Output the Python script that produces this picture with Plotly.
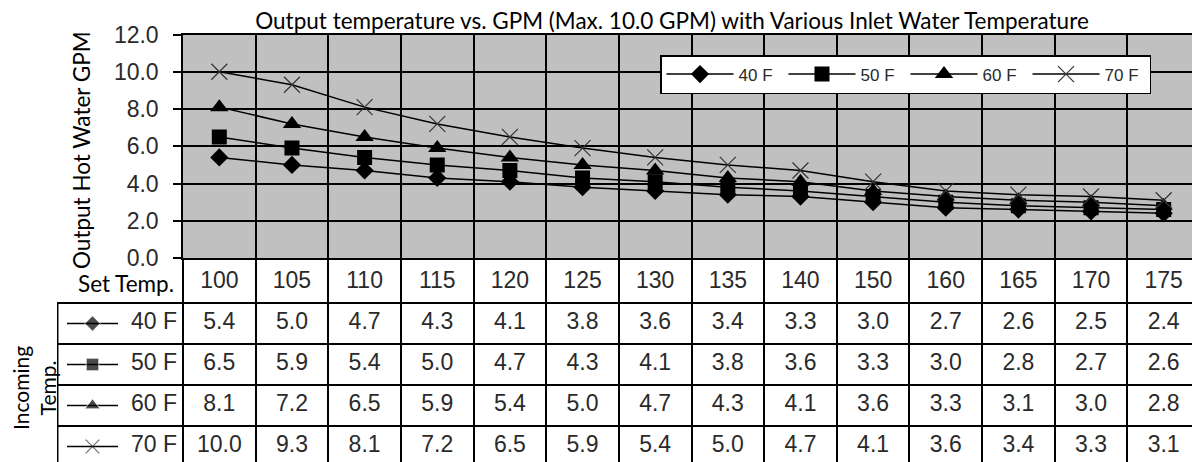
import plotly.graph_objects as go

# Data
set_temps = ["100", "105", "110", "115", "120", "125", "130", "135", "140", "150", "160", "165", "170", "175"]
inlet_labels = ["40 F", "50 F", "60 F", "70 F"]
gpm_40 = [5.4, 5.0, 4.7, 4.3, 4.1, 3.8, 3.6, 3.4, 3.3, 3.0, 2.7, 2.6, 2.5, 2.4]
gpm_50 = [6.5, 5.9, 5.4, 5.0, 4.7, 4.3, 4.1, 3.8, 3.6, 3.3, 3.0, 2.8, 2.7, 2.6]
gpm_60 = [8.1, 7.2, 6.5, 5.9, 5.4, 5.0, 4.7, 4.3, 4.1, 3.6, 3.3, 3.1, 3.0, 2.8]
gpm_70 = [10.0, 9.3, 8.1, 7.2, 6.5, 5.9, 5.4, 5.0, 4.7, 4.1, 3.6, 3.4, 3.3, 3.1]
y_ticks = [0, 2, 4, 6, 8, 10, 12]

series = [gpm_40, gpm_50, gpm_60, gpm_70]
markers = [
    dict(symbol="diamond", size=14, color="black"),
    dict(symbol="square", size=15, color="black"),
    dict(symbol="triangle-up", size=16, color="black"),
    dict(symbol="x-thin", size=16, color="black", line=dict(width=1.2, color="#333")),
]

# page body has an 8px margin, so the figure is drawn 8px smaller and shifted
OFF = 8
W, H = 1200 - OFF, 462 - OFF


def px(x):
    return (x - OFF) / W


def py(y):
    return 1 - (y - OFF) / H


plot_left, plot_top, plot_bottom = 183, 34.5, 258
table_left = 57
n = len(set_temps)
col_w = (1200 - plot_left) / n
row_h = 41.0
table_top = 303

# table axis ranges in "column" / "row" units
x2_min = -0.5 - (plot_left - table_left) / col_w
y2_top = 0.5 - (table_top - plot_bottom) / row_h
y2_bottom = 0.5 + (462 - table_top) / row_h

num_font = dict(family="Liberation Sans, Arial", size=23, color="#2a2a2a")
cal_font = dict(family="Lato, Open Sans", size=22.5, color="black")

fig = go.Figure()

# chart lines
for label, vals, mk in zip(inlet_labels, series, markers):
    fig.add_trace(go.Scatter(
        x=set_temps, y=vals, mode="lines+markers", name=label,
        line=dict(color="black", width=1.5), marker=mk,
        xaxis="x", yaxis="y",
    ))

# table: header row (set temps)
fig.add_trace(go.Scatter(
    x=list(range(n)), y=[0] * n, mode="text", text=set_temps,
    textfont=num_font, showlegend=False, xaxis="x2", yaxis="y2",
    hoverinfo="skip",
))

# table: value rows with legend keys
key_x0 = x2_min + 10 / col_w
key_x1 = x2_min + 61 / col_w
label_x = -0.5 - 6 / col_w
for i, (label, vals, mk) in enumerate(zip(inlet_labels, series, markers)):
    row = i + 1
    fig.add_trace(go.Scatter(
        x=list(range(n)), y=[row] * n, mode="text",
        text=[f"{v:.1f}" for v in vals], textfont=num_font,
        showlegend=False, xaxis="x2", yaxis="y2", hoverinfo="skip",
    ))
    small = dict(mk)
    small["size"] = mk["size"] * 0.85
    fig.add_trace(go.Scatter(
        x=[key_x0, (key_x0 + key_x1) / 2, key_x1], y=[row] * 3,
        mode="lines+markers", line=dict(color="black", width=1.5),
        marker=dict(small, size=[0, small["size"], 0]),
        showlegend=False, xaxis="x2", yaxis="y2", hoverinfo="skip",
    ))
    fig.add_trace(go.Scatter(
        x=[label_x], y=[row], mode="text", text=[label],
        textposition="middle left", textfont=num_font,
        showlegend=False, xaxis="x2", yaxis="y2", hoverinfo="skip",
    ))

# grey background only behind the chart, table stays white
fig.add_shape(type="rect", xref="x domain", yref="y domain", x0=0, x1=1, y0=0, y1=1,
              fillcolor="#c0c0c0", line=dict(width=0), layer="below")
# left border of the table body
fig.add_shape(type="line", xref="x2", yref="y2", x0=x2_min + 0.01, x1=x2_min + 0.01,
              y0=0.5, y1=y2_bottom, line=dict(color="black", width=1.5))

fig.update_layout(
    width=W, height=H, autosize=False,
    margin=dict(l=0, r=0, t=0, b=0, autoexpand=False),
    paper_bgcolor="white", plot_bgcolor="white",
    title=dict(
        text="Output temperature vs. GPM (Max. 10.0 GPM) with Various Inlet Water Temperature",
        x=px(672), y=1 - 5 / H, xanchor="center", yanchor="top",
        font=cal_font,
    ),
    xaxis=dict(
        domain=[px(plot_left), 1], range=[-0.5, n - 0.5], type="category",
        tickson="boundaries", showgrid=True, gridcolor="black", gridwidth=1.5,
        showline=True, linecolor="black", linewidth=1.5, mirror=True,
        showticklabels=False, ticks="", anchor="y",
    ),
    yaxis=dict(
        domain=[py(plot_bottom), py(plot_top)], range=[0, 12],
        tickvals=y_ticks, ticktext=[f"{v:.1f}" for v in y_ticks],
        showgrid=True, gridcolor="black", gridwidth=1.5,
        showline=True, linecolor="black", linewidth=1.5, mirror=True,
        ticks="outside", ticklen=8, tickcolor="black", tickwidth=1.5,
        tickfont=num_font, ticklabelstandoff=10, zeroline=False, anchor="x",
    ),
    xaxis2=dict(
        domain=[px(table_left), 1], range=[x2_min, n - 0.5],
        tickvals=[i - 0.5 for i in range(n + 1)],
        showgrid=True, gridcolor="black", gridwidth=1.5,
        showticklabels=False, ticks="", zeroline=False, anchor="y2",
    ),
    yaxis2=dict(
        domain=[0, py(plot_bottom)], range=[y2_bottom, y2_top],
        tickvals=[r + 0.5 for r in range(4)],
        showgrid=True, gridcolor="black", gridwidth=1.5,
        showticklabels=False, ticks="", zeroline=False, anchor="x2",
    ),
    legend=dict(
        orientation="h", x=px(660), y=py(55), xanchor="left", yanchor="top",
        bgcolor="white", bordercolor="black", borderwidth=1.5,
        font=dict(family="Liberation Sans, Arial", size=17, color="#2a2a2a"),
        entrywidth=40, entrywidthmode="pixels", itemwidth=67,
    ),
    annotations=[
        dict(text="Output Hot Water GPM", x=px(81), y=py(150), xref="paper", yref="paper",
             textangle=-90, showarrow=False, font=cal_font, xanchor="center", yanchor="middle"),
        dict(text="Set Temp.", x=px(176), y=py(283), xref="paper", yref="paper",
             showarrow=False, font=cal_font, xanchor="right", yanchor="middle"),
        dict(text="Incoming<br>Temp.", x=px(34), y=py(388), xref="paper", yref="paper",
             textangle=-90, showarrow=False, font=dict(cal_font, size=21),
             xanchor="center", yanchor="middle"),
    ],
)

fig.write_html("out.html")
